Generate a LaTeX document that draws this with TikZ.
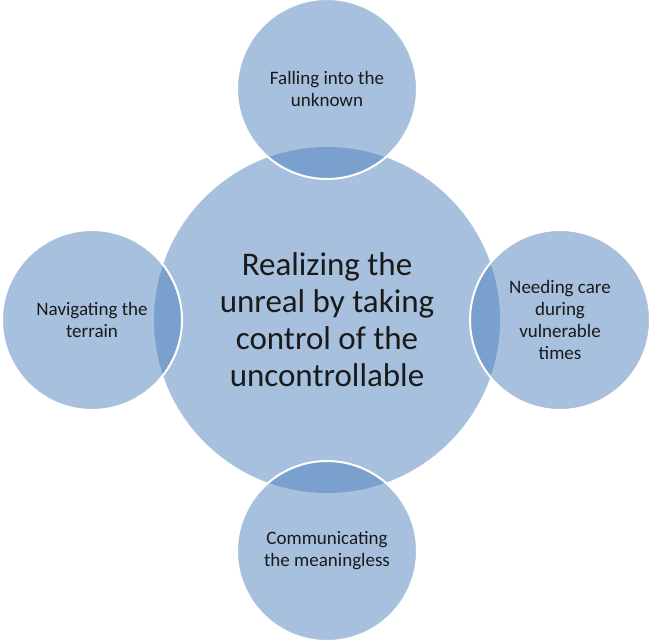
\documentclass[tikz,border=0pt]{standalone}
\usepackage{fontspec}
\setmainfont{Carlito}
\definecolor{vennblue}{HTML}{4F81BD}
\definecolor{venntext}{HTML}{1A1A1A}
\begin{document}
\begin{tikzpicture}[x=1pt,y=-1pt,
  bubble/.style={circle, fill=vennblue, fill opacity=0.5, text opacity=1,
    inner sep=0pt, minimum size=#1, align=center, text=venntext},
  sat/.style={bubble=180pt, draw=white, draw opacity=1, line width=2pt,
    font=\fontsize{19}{22}\selectfont},
  hub/.style={bubble=346pt, draw=none, font=\fontsize{33}{37}\selectfont}
]
\useasboundingbox (0,0) rectangle (652,640);
\node[hub] (center) at (327,320) {Realizing the\\unreal by taking\\control of the\\uncontrollable};
\node[sat] (top) at (327,89) {Falling into the\\unknown};
\node[sat] (right) at (560,320) {Needing care\\during\\vulnerable\\times};
\node[sat] (bottom) at (327,551) {Communicating\\the meaningless};
\node[sat] (left) at (92,320) {Navigating the\\terrain};
\end{tikzpicture}
\end{document}
